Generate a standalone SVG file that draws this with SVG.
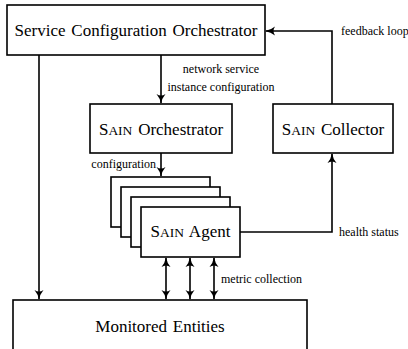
<svg xmlns="http://www.w3.org/2000/svg" width="408" height="349" viewBox="0 0 408 349">
<style>
.box{fill:#fff;stroke:#000;stroke-width:1.6}
.ln{fill:none;stroke:#000;stroke-width:1.6}
.big{font-family:"Liberation Serif","Times New Roman",serif;font-size:17px;fill:#000}
.sc{font-size:13.5px}
.lbl{font-family:"Liberation Serif","Times New Roman",serif;font-size:12px;fill:#000}
</style>
<defs>
<marker id="ah" viewBox="0 0 10 10" refX="9" refY="5" markerWidth="10" markerHeight="10" markerUnits="userSpaceOnUse" orient="auto-start-reverse">
<path d="M0,0.5 Q4,4 10,5 Q4,6 0,9.5 Q3,5 0,0.5 Z" fill="#000"/>
</marker>
</defs>
<rect width="408" height="349" fill="#fff"/>
<g id="connectors">
<path class="ln" d="M39,55 V299" marker-end="url(#ah)"/>
<path class="ln" d="M161,55 V103" marker-end="url(#ah)"/>
<path class="ln" d="M332,104 V31 H266" marker-end="url(#ah)"/>
<path class="ln" d="M161,153 V176" marker-end="url(#ah)"/>
<path class="ln" d="M240,232 H332 V154" marker-end="url(#ah)"/>
<path class="ln" d="M166,258 V299" marker-start="url(#ah)" marker-end="url(#ah)"/>
<path class="ln" d="M190,258 V299" marker-start="url(#ah)" marker-end="url(#ah)"/>
<path class="ln" d="M214,258 V299" marker-start="url(#ah)" marker-end="url(#ah)"/>
<text class="lbl" x="221" y="73" text-anchor="middle">network service</text>
<text class="lbl" x="221" y="91" text-anchor="middle">instance configuration</text>
<text class="lbl" x="341" y="35">feedback loop</text>
<text class="lbl" x="156" y="168" text-anchor="end">configuration</text>
<text class="lbl" x="339" y="236">health status</text>
<text class="lbl" x="221" y="283">metric collection</text>
</g>
<g id="service-configuration-orchestrator">
<rect class="box" x="7" y="5" width="258" height="50"/>
<text class="big" x="136" y="36" text-anchor="middle" word-spacing="1.5">Service Configuration Orchestrator</text>
</g>
<g id="sain-orchestrator">
<rect class="box" x="90" y="104" width="142" height="49"/>
<text class="big" x="161" y="135" text-anchor="middle" word-spacing="1.5">S<tspan class="sc">AIN</tspan> Orchestrator</text>
</g>
<g id="sain-collector">
<rect class="box" x="273" y="104" width="120" height="49"/>
<text class="big" x="333" y="135" text-anchor="middle" word-spacing="1.5">S<tspan class="sc">AIN</tspan> Collector</text>
</g>
<g id="sain-agent">
<rect class="box" x="111" y="177" width="99" height="50"/>
<rect class="box" x="121" y="187" width="99" height="50"/>
<rect class="box" x="131" y="197" width="99" height="50"/>
<rect class="box" x="141" y="207" width="99" height="50"/>
<text class="big" x="190.5" y="237" text-anchor="middle" word-spacing="1.5">S<tspan class="sc">AIN</tspan> Agent</text>
</g>
<g id="monitored-entities">
<rect class="box" x="13" y="300" width="294" height="60"/>
<text class="big" x="160" y="332" text-anchor="middle" word-spacing="1.5">Monitored Entities</text>
</g>
</svg>
